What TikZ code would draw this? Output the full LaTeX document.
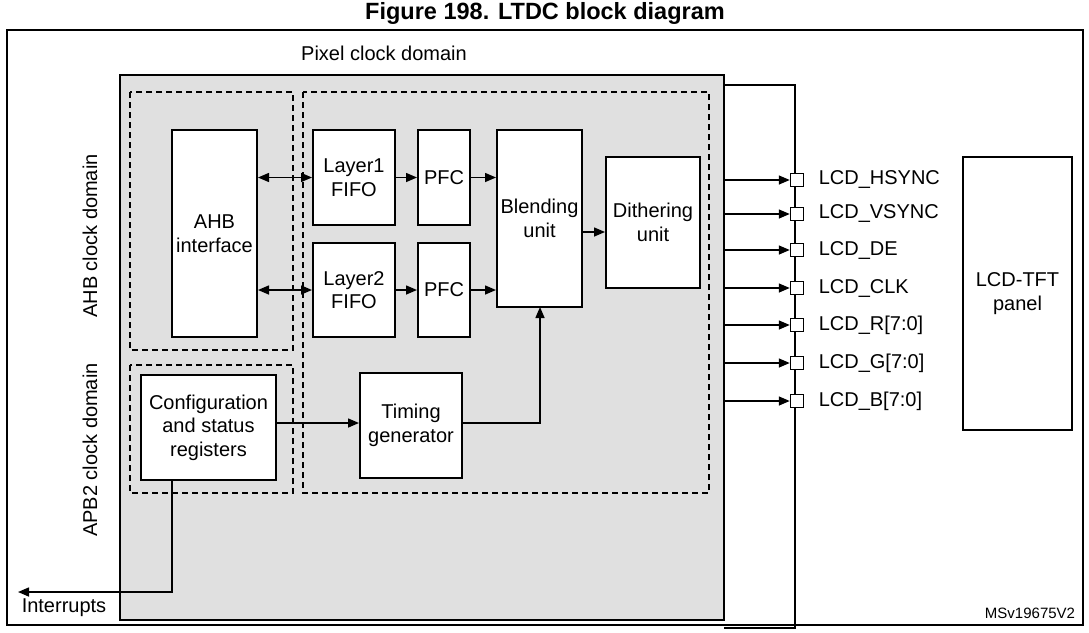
\documentclass[tikz,border=0pt]{standalone}
\usepackage{fontspec}
\setmainfont{Liberation Sans}
\usetikzlibrary{arrows.meta}
\begin{document}
\begin{tikzpicture}[x=1pt,y=-1pt,line width=1.5pt,
 blk/.style={draw,line width=2pt,fill=white,align=center,inner sep=0pt},
 dom/.style={draw,line width=1.5pt,dash pattern=on 6pt off 4pt},
 ar/.style={-{Triangle[length=11pt,width=9pt]},line width=1.5pt},
 dar/.style={{Triangle[length=11pt,width=9pt]}-{Triangle[length=11pt,width=9pt]},line width=1.5pt},
 pin/.style={draw,line width=1.5pt,fill=white,minimum size=13pt,inner sep=0pt},
 lbl/.style={anchor=west,inner sep=0pt},
 every node/.style={font=\fontsize{20}{23.5}\selectfont}]
\useasboundingbox (0,0) rectangle (1089,632);
\node[font=\bfseries\fontsize{23.5}{26}\selectfont] (title) at (545,13) {Figure 198. LTDC block diagram};
\draw[line width=2pt] (7,30) rectangle (1083,625);
\draw[line width=2pt,fill=black!12] (120,75) rectangle (724,620);
\node (pcd) at (384,53) {Pixel clock domain};
\draw[line width=2pt] (724,85) -- (795,85) -- (795,628) -- (724,628);
\draw[dom] (130,92) rectangle (293,350);
\draw[dom] (130,365) rectangle (293,493);
\draw[dom] (303,92) rectangle (709,493);
\node[rotate=90] (ahbd) at (90,236) {AHB clock domain};
\node[rotate=90] (apbd) at (90,450) {APB2 clock domain};
\node[blk,minimum width=85pt,minimum height=207pt] (ahb) at (214.5,233.5) {AHB\\interface};
\node[blk,minimum width=82pt,minimum height=95pt] (l1) at (354,177.5) {Layer1\\FIFO};
\node[blk,minimum width=82pt,minimum height=94pt] (l2) at (354,290) {Layer2\\FIFO};
\node[blk,minimum width=52pt,minimum height=95pt] (p1) at (444,177.5) {PFC};
\node[blk,minimum width=52pt,minimum height=94pt] (p2) at (444,290) {PFC};
\node[blk,minimum width=85pt,minimum height=177pt] (bl) at (539.5,218.5) {Blending\\unit};
\node[blk,minimum width=94pt,minimum height=131pt] (di) at (653,222.5) {Dithering\\unit};
\node[blk,minimum width=135pt,minimum height=105pt] (cfg) at (208.5,427.5) {Configuration\\and status\\registers};
\node[blk,minimum width=102pt,minimum height=105pt] (tg) at (411,425.5) {Timing\\generator};
\draw[dar] (ahb.east|-l1) -- (l1.west);
\draw[dar] (ahb.east|-l2) -- (l2.west);
\draw[ar] (l1) -- (p1);
\draw[ar] (l2) -- (p2);
\draw[ar] (p1.east) -- (bl.west|-p1);
\draw[ar] (p2.east) -- (bl.west|-p2);
\draw[ar] (bl.east|-0,232) -- (di.west|-0,232);
\draw[ar] (cfg.east|-0,423) -- (tg.west|-0,423);
\draw[ar] (tg.east|-0,423) -- (540,423) -- (540,307);
\coordinate (irq) at (18,592);
\draw[ar] (172,480) -- (172,592) -- (irq);
\node (irqt) at (64,608) {Interrupts};
\foreach \n/\y/\t in {1/180/LCD\_HSYNC,2/214/LCD\_VSYNC,3/250/LCD\_DE,4/288/LCD\_CLK,5/325/LCD\_R[7:0],6/363/LCD\_G[7:0],7/401/LCD\_B[7:0]}{
 \node[pin] (pin\n) at (797,\y) {};
 \coordinate (src\n) at (724,\y);
 \draw[ar] (src\n) -- (pin\n.west);
 \node[lbl] (t\n) at (818,\y) {\t};
}
\node[blk,minimum width=109pt,minimum height=273pt] (lcd) at (1017.5,293.5) {LCD-TFT\\panel};
\node[font=\fontsize{15}{17}\selectfont] (ms) at (1030,613) {MSv19675V2};
\end{tikzpicture}
\end{document}
